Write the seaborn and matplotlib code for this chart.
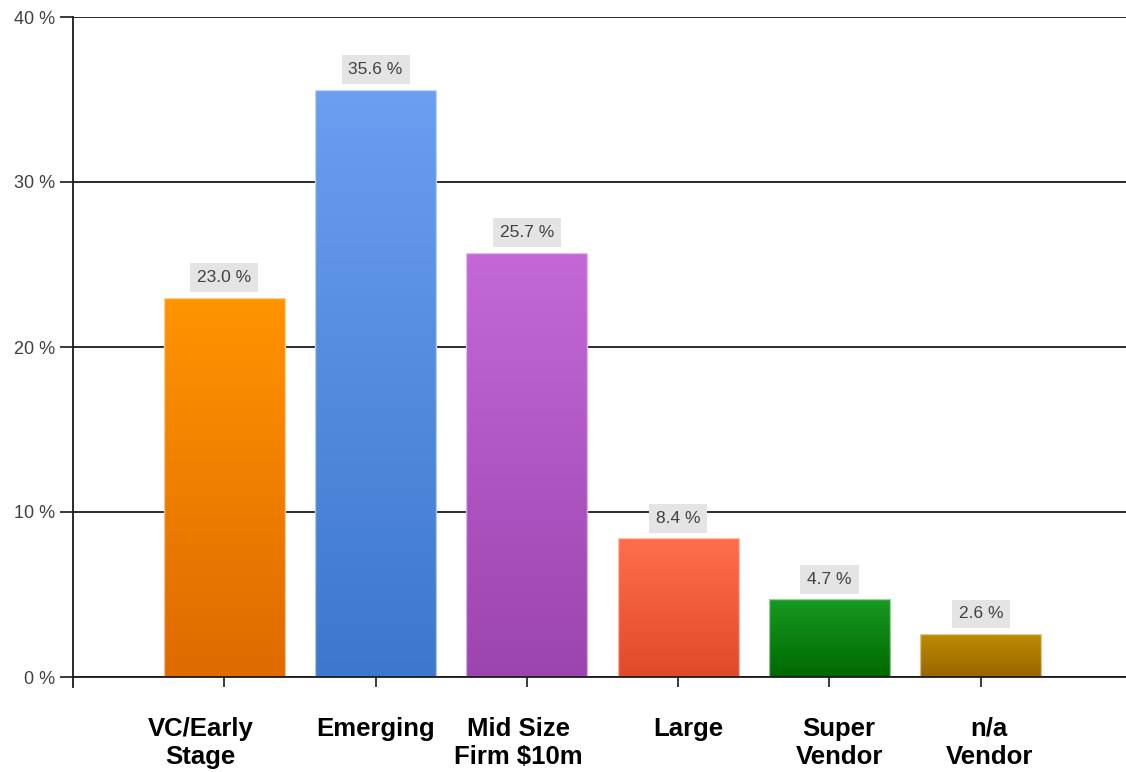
import numpy as np
import matplotlib
matplotlib.use("Agg")
import matplotlib.pyplot as plt
import matplotlib.colors as mcolors
import matplotlib.transforms as mtrans
import seaborn as sns

categories = ["VC/Early\nStage", "Emerging", "Mid Size\nFirm $10m", "Large", "Super\nVendor", "n/a\nVendor"]
values = [23.0, 35.6, 25.7, 8.4, 4.7, 2.6]
top_colors = ["#FF9400", "#6C9EF2", "#C468D8", "#FF6E4C", "#179A22", "#BD8C00"]
bottom_colors = ["#DE6A00", "#3C78CC", "#9C44B0", "#E04A28", "#006800", "#9A6400"]
y_ticks = [0, 10, 20, 30, 40]
y_tick_labels = ["0 %", "10 %", "20 %", "30 %", "40 %"]
label_dx_pt = [-17, 0, -6, 7, 7, 6]  # horizontal nudges of the category labels (points)

sns.set_theme(style="white")
plt.rcParams["font.family"] = ["Liberation Sans", "DejaVu Sans"]

fig = plt.figure(figsize=(11.26, 7.72), dpi=100)
ax = fig.add_axes([73 / 1126, 1 - 677 / 772, 1 - 73 / 1126, (677 - 17) / 772])

df = {"cat": categories, "val": values}
sns.barplot(x="cat", y="val", hue="cat", data=df, palette=top_colors, width=0.8,
            legend=False, ax=ax, saturation=1)

# gradient fills clipped to each bar
for i, p in enumerate(ax.patches):
    x, w, h = p.get_x(), p.get_width(), p.get_height()
    c1 = np.array(mcolors.to_rgb(top_colors[i]))
    c2 = np.array(mcolors.to_rgb(bottom_colors[i]))
    t = np.linspace(0, 1, 256)[:, None]
    grad = (c1[None, :] * (1 - t) + c2[None, :] * t)[:, None, :]
    im = ax.imshow(grad, extent=[x, x + w, 0, h], aspect="auto", origin="upper",
                   zorder=p.get_zorder() - 0.05, interpolation="bilinear")
    im.set_clip_path(p)
    p.set_facecolor("none")
    p.set_edgecolor((1, 1, 1, 0.55))
    p.set_linewidth(1.0)
    ax.text(x + w / 2, h + 1.22, f"{values[i]:.1f} %", ha="center", va="center",
            fontsize=12.5, color="#404040", zorder=5,
            bbox=dict(boxstyle="square,pad=0.4", fc="#E4E4E4", ec="none"))

ax.set_xlim(-1.0, 5.96)
ax.set_ylim(0, 40)

ax.set_yticks(y_ticks)
ax.set_yticklabels(y_tick_labels, fontsize=13, color="#404040")
ax.yaxis.grid(True, color="#1a1a1a", linewidth=1.3)
ax.set_axisbelow(True)

ax.set_xlabel("")
ax.set_ylabel("")
ax.set_xticks(range(len(categories)))
ax.set_xticklabels([""] * len(categories))

# category labels, drawn as text below each tick
blend = mtrans.blended_transform_factory(ax.transData, ax.transAxes)
for i, (cat, dx) in enumerate(zip(categories, label_dx_pt)):
    tr = blend + mtrans.ScaledTranslation(dx / 72, -40 / 100, fig.dpi_scale_trans)
    ax.text(i, 0, cat, transform=tr, ha="center", va="top", fontsize=18.5,
            fontweight="bold", color="#000000", linespacing=1.22, clip_on=False)

ax.tick_params(axis="y", which="both", left=True, length=9.5, width=1.2, color="#1a1a1a", pad=3.5)
ax.tick_params(axis="x", which="both", bottom=True, length=7, width=1.2, color="#1a1a1a")

for s in ["top", "right"]:
    ax.spines[s].set_visible(False)
ax.spines["left"].set_color("#1a1a1a")
ax.spines["left"].set_linewidth(1.3)
ax.spines["left"].set_bounds(-0.6, 40)
ax.spines["bottom"].set_color("#1a1a1a")
ax.spines["bottom"].set_linewidth(1.3)

fig.savefig("out.png", dpi=100, facecolor="white")
